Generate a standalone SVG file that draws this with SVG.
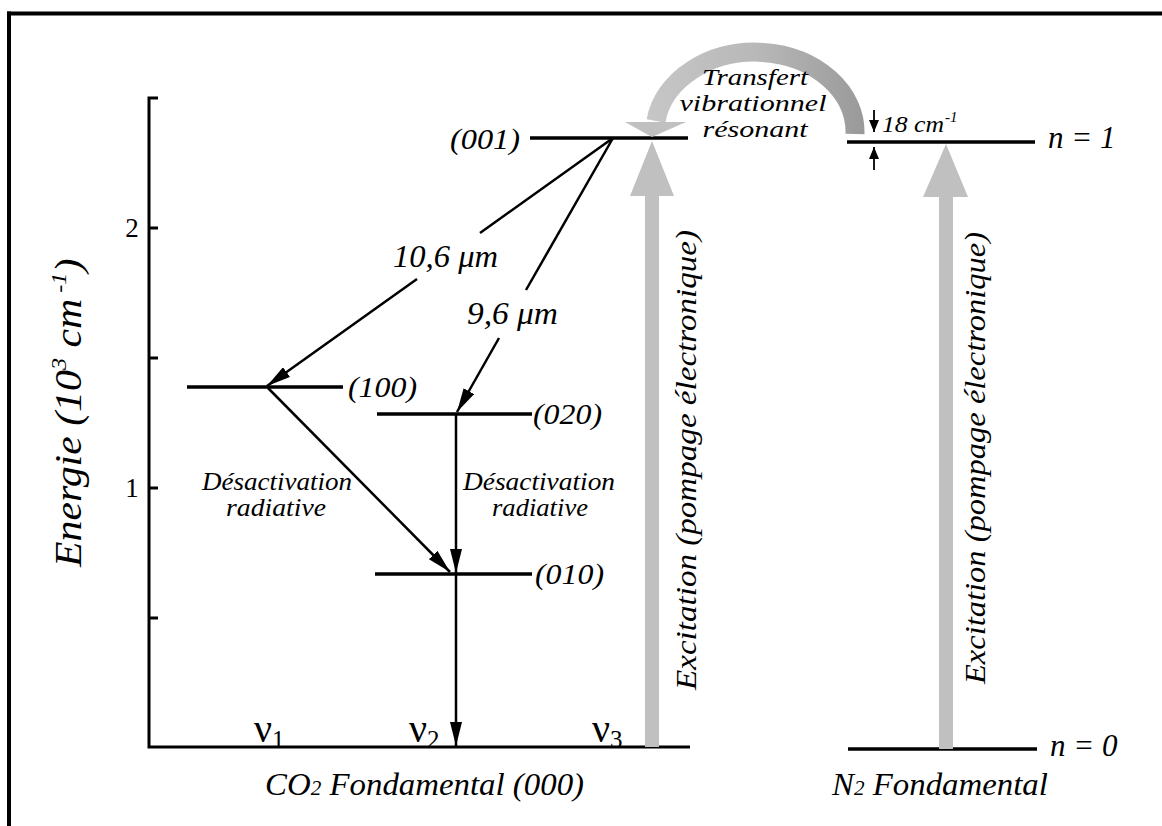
<svg xmlns="http://www.w3.org/2000/svg" width="1162" height="826" viewBox="0 0 1162 826">
<style>
.t{font-family:"Liberation Serif","Times New Roman",serif;font-style:italic;fill:#000}
.u{font-family:"Liberation Serif","Times New Roman",serif;fill:#000}
.lv{stroke:#000;stroke-width:3.5;fill:none}
.ax{stroke:#000;stroke-width:3;fill:none}
.ar{stroke:#000;stroke-width:2.5;fill:none}
.gr{fill:#c0c0c0}
</style>
<defs>
<marker id="ah" markerUnits="userSpaceOnUse" markerWidth="24" markerHeight="12" refX="24" refY="6" orient="auto">
<path d="M0,0 L24,6 L0,12 z" fill="#000"/>
</marker>
<marker id="sh" markerUnits="userSpaceOnUse" markerWidth="12" markerHeight="10" refX="12" refY="5" orient="auto">
<path d="M0,0 L12,5 L0,10 z" fill="#000"/>
</marker>
<linearGradient id="arcg" gradientUnits="userSpaceOnUse" x1="650" y1="0" x2="865" y2="0">
<stop offset="0" stop-color="#c6c6c6"/>
<stop offset="0.5" stop-color="#b8b8b8"/>
<stop offset="1" stop-color="#999"/>
</linearGradient>
</defs>

<g id="frame">
<line x1="9" y1="11.5" x2="9" y2="826" stroke="#000" stroke-width="4"/>
<line x1="7" y1="13.5" x2="1162" y2="13.5" stroke="#000" stroke-width="4"/>
</g>

<g id="axis">
<polyline class="ax" points="158,98 149,98 149,747 690,747"/>
<line class="ax" x1="149" y1="228" x2="158" y2="228"/>
<line class="ax" x1="149" y1="358" x2="158" y2="358"/>
<line class="ax" x1="149" y1="488" x2="158" y2="488"/>
<line class="ax" x1="149" y1="618" x2="158" y2="618"/>
<text class="u" x="132" y="237" font-size="27" text-anchor="middle">2</text>
<text class="u" x="132" y="497" font-size="27" text-anchor="middle">1</text>
<text class="t" transform="translate(81,567) rotate(-90) scale(1.1,1)" font-size="38">Energie (10<tspan font-size="22" dy="-15">3</tspan><tspan dy="15"> cm</tspan><tspan font-size="22" dy="-15"> -1</tspan><tspan dy="15">)</tspan></text>
<text class="u" x="254" y="742" font-size="40">ν<tspan font-size="25" dy="6">1</tspan></text>
<text class="u" x="409" y="742" font-size="40">ν<tspan font-size="25" dy="6">2</tspan></text>
<text class="u" x="592" y="742" font-size="40">ν<tspan font-size="25" dy="6">3</tspan></text>
<text class="t" transform="translate(265,795) scale(1.06,1)" font-size="31">CO<tspan font-size="20">2</tspan> Fondamental (000)</text>
</g>

<g id="level-001">
<line class="lv" x1="530" y1="138" x2="688" y2="138"/>
<text class="t" x="520" y="149" font-size="30" text-anchor="end" textLength="70" lengthAdjust="spacingAndGlyphs">(001)</text>
</g>
<g id="level-100">
<line class="lv" x1="187" y1="387" x2="343" y2="387"/>
<text class="t" x="348" y="397" font-size="30" textLength="69" lengthAdjust="spacingAndGlyphs">(100)</text>
</g>
<g id="level-020">
<line class="lv" x1="377" y1="414" x2="532" y2="414"/>
<text class="t" x="533" y="424" font-size="30" textLength="69" lengthAdjust="spacingAndGlyphs">(020)</text>
</g>
<g id="level-010">
<line class="lv" x1="375" y1="574" x2="532" y2="574"/>
<text class="t" x="535" y="584" font-size="30" textLength="69" lengthAdjust="spacingAndGlyphs">(010)</text>
</g>
<g id="level-n1">
<line class="lv" x1="847" y1="142" x2="1035" y2="142"/>
<text class="t" x="1048" y="148" font-size="31">n = 1</text>
</g>
<g id="level-n0">
<line class="lv" x1="848" y1="749" x2="1037" y2="749"/>
<text class="t" x="1050" y="756" font-size="31">n = 0</text>
<text class="t" transform="translate(832,795) scale(1.06,1)" font-size="31">N<tspan font-size="20">2</tspan> Fondamental</text>
</g>

<g id="connectors">
<line class="ar" x1="613" y1="138" x2="480" y2="233"/>
<line class="ar" x1="417" y1="279" x2="267" y2="386" marker-end="url(#ah)"/>
<line class="ar" x1="613" y1="138" x2="526" y2="290"/>
<line class="ar" x1="499" y1="338" x2="457" y2="412" marker-end="url(#ah)"/>
<line class="ar" x1="268" y1="388" x2="450" y2="572" marker-end="url(#ah)"/>
<line class="ar" x1="456" y1="414" x2="456" y2="573" marker-end="url(#ah)"/>
<line class="ar" x1="456" y1="574" x2="456" y2="746" marker-end="url(#ah)"/>
<text class="t" x="393" y="267" font-size="31" textLength="105" lengthAdjust="spacingAndGlyphs">10,6 μm</text>
<text class="t" x="467" y="324" font-size="31" textLength="91" lengthAdjust="spacingAndGlyphs">9,6 μm</text>
<text class="t" x="277" y="490" font-size="25" text-anchor="middle" textLength="150" lengthAdjust="spacingAndGlyphs">Désactivation</text>
<text class="t" x="276" y="516" font-size="25" text-anchor="middle" textLength="100" lengthAdjust="spacingAndGlyphs">radiative</text>
<text class="t" x="539" y="490" font-size="25" text-anchor="middle" textLength="152" lengthAdjust="spacingAndGlyphs">Désactivation</text>
<text class="t" x="540" y="516" font-size="25" text-anchor="middle" textLength="96" lengthAdjust="spacingAndGlyphs">radiative</text>

<rect class="gr" x="645" y="195" width="14" height="552"/>
<polygon class="gr" points="630,196 674,196 652,141"/>
<text class="t" transform="translate(696,690) rotate(-90)" font-size="30" textLength="460" lengthAdjust="spacingAndGlyphs">Excitation (pompage électronique)</text>
<rect class="gr" x="939" y="197" width="14" height="552"/>
<polygon class="gr" points="923,197 968,197 946,144"/>
<text class="t" transform="translate(985,684) rotate(-90)" font-size="30" textLength="452" lengthAdjust="spacingAndGlyphs">Excitation (pompage électronique)</text>

<path d="M855,134 A100,80 0 0 0 656,121" fill="none" stroke="url(#arcg)" stroke-width="19"/>
<polygon class="gr" points="625,122 686,122 652,137"/>
<text class="t" x="755" y="85" font-size="24" text-anchor="middle" textLength="106" lengthAdjust="spacingAndGlyphs">Transfert</text>
<text class="t" x="753" y="111" font-size="24" text-anchor="middle" textLength="147" lengthAdjust="spacingAndGlyphs">vibrationnel</text>
<text class="t" x="755" y="137" font-size="24" text-anchor="middle" textLength="105" lengthAdjust="spacingAndGlyphs">résonant</text>

<line x1="874" y1="110" x2="874" y2="132" stroke="#000" stroke-width="1.8" marker-end="url(#sh)"/>
<line x1="874" y1="170" x2="874" y2="147" stroke="#000" stroke-width="1.8" marker-end="url(#sh)"/>
<text class="t" x="882" y="132" font-size="24" textLength="62" lengthAdjust="spacingAndGlyphs">18 cm</text>
<text class="t" x="945" y="122" font-size="15">-1</text>
</g>
</svg>
